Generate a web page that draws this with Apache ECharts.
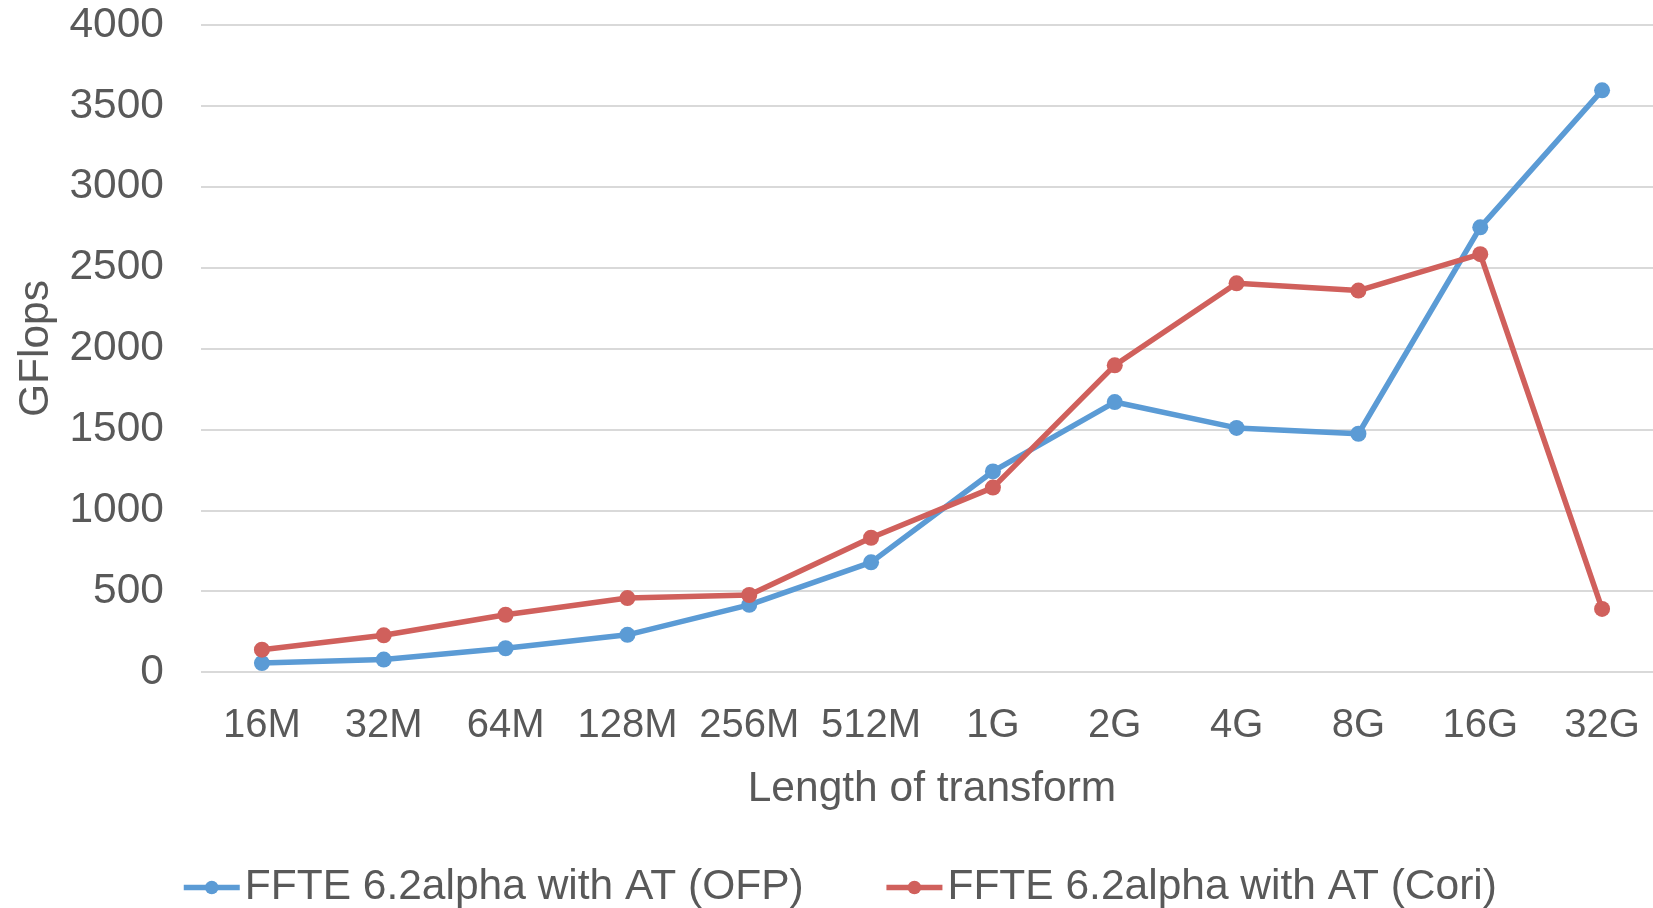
<!DOCTYPE html>
<html>
<head>
<meta charset="utf-8">
<script src="https://cdn.jsdelivr.net/npm/echarts@6/dist/echarts.min.js"></script>
<style>html,body{margin:0;padding:0;background:#fff;overflow:hidden;width:1653px;height:908px;}#c{width:1664px;height:908px;}</style>
</head>
<body>
<div id="c"></div>
<script>
const categories = ['16M','32M','64M','128M','256M','512M','1G','2G','4G','8G','16G','32G'];
const ofpValues = [55, 77, 147, 230, 415, 678, 1240, 1669, 1509, 1473, 2749, 3596];
const coriValues = [138, 227, 354, 457, 476, 830, 1140, 1896, 2403, 2358, 2583, 390];
const seriesNames = ['FFTE 6.2alpha with AT (OFP)', 'FFTE 6.2alpha with AT (Cori)'];
const yTicks = { min: 0, max: 4000, interval: 500 };

const font = 'Liberation Sans, Arial, sans-serif';
const textColor = '#595959';
const chart = echarts.init(document.getElementById('c'));
chart.setOption({
  animation: false,
  color: ['#5B9BD5', '#D0605C'],
  grid: { left: 201, top: 25, width: 1462, height: 647 },
  legend: {
    top: 861,
    left: 176,
    itemWidth: 56,
    itemHeight: 17,
    itemGap: 80,
    lineStyle: { width: 5.5 },
    textStyle: { fontFamily: font, fontSize: 42.5, color: textColor },
    data: seriesNames
  },
  xAxis: {
    type: 'category',
    data: categories,
    boundaryGap: true,
    axisLine: { show: false },
    axisTick: { show: false },
    axisLabel: { fontFamily: font, fontSize: 40, color: textColor, margin: 34, interval: 0 },
    name: 'Length of transform',
    nameLocation: 'middle',
    nameGap: 96,
    nameTextStyle: { fontFamily: font, fontSize: 42.5, color: textColor }
  },
  yAxis: {
    type: 'value',
    min: yTicks.min,
    max: yTicks.max,
    interval: yTicks.interval,
    axisLine: { show: false },
    axisTick: { show: false },
    axisLabel: { fontFamily: font, fontSize: 42.5, color: textColor, margin: 37,
      formatter: v => String(v) },
    splitLine: { lineStyle: { color: '#D9D9D9', width: 2 } },
    name: 'GFlops',
    nameLocation: 'middle',
    nameGap: 143,
    nameTextStyle: { fontFamily: font, fontSize: 42.5, color: textColor }
  },
  series: [
    { name: seriesNames[0], type: 'line', data: ofpValues, symbol: 'circle', symbolSize: 16,
      lineStyle: { width: 5.5 }, clip: false },
    { name: seriesNames[1], type: 'line', data: coriValues, symbol: 'circle', symbolSize: 16,
      lineStyle: { width: 5.5 }, clip: false }
  ]
});
</script>
</body>
</html>
